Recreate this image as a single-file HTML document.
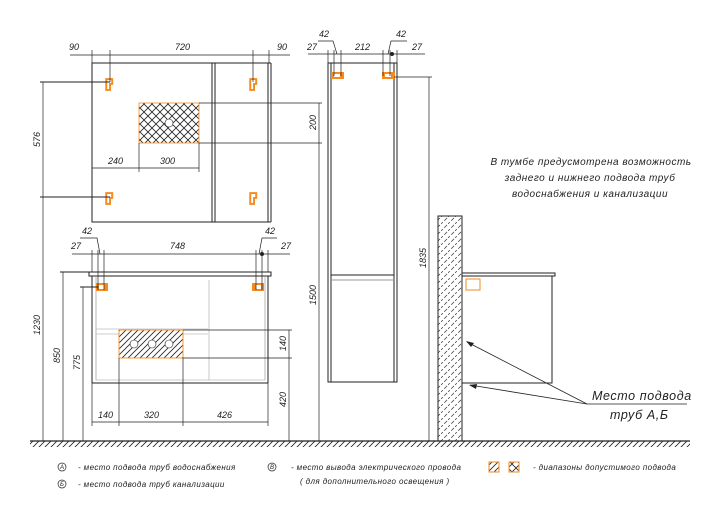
<!DOCTYPE html>
<html><head><meta charset="utf-8"><style>
html,body{margin:0;padding:0;background:#fff;}
svg{display:block;}
text{font-family:"Liberation Sans",sans-serif;font-style:italic;fill:#222;}
.d{font-size:9px;}
</style></head><body>
<svg width="720" height="521" viewBox="0 0 720 521" xmlns="http://www.w3.org/2000/svg">
<defs>
<pattern id="cross" width="8" height="8" patternUnits="userSpaceOnUse">
<path d="M0 0L8 8M8 0L0 8" stroke="#222" stroke-width="0.8"/>
</pattern>
<pattern id="diag" width="6" height="6" patternUnits="userSpaceOnUse">
<path d="M-1 7L7 -1M-1 1L1 -1M5 7L7 5" stroke="#222" stroke-width="0.8"/>
</pattern>
<pattern id="wall" width="7" height="7" patternUnits="userSpaceOnUse">
<path d="M-1 8L8 -1" stroke="#333" stroke-width="0.7" stroke-dasharray="4,2"/>
</pattern>
<symbol id="hook" viewBox="0 0 8 12">
<path d="M1 1H6.5V5.5H4.5V11H1Z" fill="#fff" stroke="#f58a1f" stroke-width="1.8"/>
</symbol>
</defs>
<g stroke="#222" fill="none" stroke-width="0.8">
<line x1="30" y1="441" x2="690" y2="441" stroke-width="1.2"/>
</g>
<rect x="30" y="441" width="660" height="6" fill="url(#diag)"/>

<!-- MIRROR -->
<g stroke="#222" fill="none" stroke-width="1">
<rect x="92" y="63" width="176" height="159"/>
<line x1="268" y1="63" x2="271" y2="63"/><line x1="271" y1="63" x2="271" y2="222"/><line x1="268" y1="222" x2="271" y2="222"/>
<line x1="212" y1="63" x2="212" y2="222"/><line x1="215" y1="63" x2="215" y2="222"/>
</g>
<rect x="139" y="103" width="60" height="40" fill="url(#cross)" stroke="#f58a1f" stroke-width="0.8"/>
<circle cx="169" cy="123" r="4" fill="#fff" stroke="#222" stroke-width="0.6"/>
<use href="#hook" x="105" y="78" width="9" height="13"/>
<use href="#hook" x="249" y="78" width="9" height="13"/>
<use href="#hook" x="105" y="192" width="9" height="13"/>
<use href="#hook" x="249" y="192" width="9" height="13"/>
<g stroke="#222" stroke-width="0.7" fill="none">
<line x1="70" y1="55" x2="290" y2="55"/>
<line x1="92" y1="50" x2="92" y2="63"/><line x1="110" y1="50" x2="110" y2="82"/>
<line x1="253" y1="50" x2="253" y2="82"/><line x1="269" y1="50" x2="269" y2="63"/>
<line x1="43" y1="82" x2="43" y2="441"/>
<line x1="40" y1="82" x2="110" y2="82" stroke-width="1"/><line x1="40" y1="197" x2="110" y2="197" stroke-width="1"/>
<line x1="92" y1="168" x2="199" y2="168"/>
<line x1="139" y1="143" x2="139" y2="172"/><line x1="199" y1="143" x2="199" y2="172"/>
<line x1="199" y1="103" x2="322" y2="103"/><line x1="199" y1="143" x2="322" y2="143"/>
<line x1="319" y1="103" x2="319" y2="441"/>
</g>
<text class="d" x="69" y="50">90</text><text class="d" x="175" y="50">720</text><text class="d" x="277" y="50">90</text>
<text class="d" x="108" y="164">240</text><text class="d" x="160" y="164">300</text>
<text class="d" transform="translate(40,147) rotate(-90)">576</text>
<text class="d" transform="translate(316,130) rotate(-90)">200</text>

<!-- VANITY -->
<g stroke="#222" fill="none" stroke-width="1">
<rect x="89" y="272" width="182" height="4"/>
<line x1="92" y1="276" x2="92" y2="383"/><line x1="268" y1="276" x2="268" y2="383"/>
<line x1="92" y1="383" x2="268" y2="383"/>
<line x1="96" y1="276" x2="96" y2="380" stroke="#999" stroke-width="0.7"/>
<line x1="265" y1="276" x2="265" y2="380" stroke="#999" stroke-width="0.7"/>
</g>
<g stroke="#bbb" stroke-width="0.8">
<line x1="209" y1="280" x2="209" y2="380"/>
<line x1="96" y1="329" x2="208" y2="329"/><line x1="96" y1="334" x2="208" y2="334"/>
<line x1="96" y1="380" x2="265" y2="380"/>
</g>
<rect x="119" y="330" width="64" height="28" fill="#fff"/>
<rect x="119" y="330" width="64" height="28" fill="url(#diag)" stroke="#f58a1f" stroke-width="0.9"/>
<g fill="#fff" stroke="#222" stroke-width="0.6">
<circle cx="134" cy="344" r="4"/><circle cx="152" cy="344" r="4"/><circle cx="169" cy="344" r="4"/>
</g>
<rect x="96" y="283" width="12" height="8" fill="#f58a1f"/><rect x="99" y="285" width="5" height="4" fill="#fff"/>
<rect x="252" y="283" width="12" height="8" fill="#f58a1f"/><rect x="256" y="285" width="5" height="4" fill="#fff"/>
<g stroke="#222" stroke-width="0.7" fill="none">
<line x1="72" y1="254" x2="290" y2="254"/>
<line x1="92" y1="250" x2="92" y2="272"/><line x1="98" y1="250" x2="98" y2="290"/><line x1="104" y1="250" x2="104" y2="290"/>
<line x1="256" y1="250" x2="256" y2="290"/><line x1="262" y1="250" x2="262" y2="290"/><line x1="268" y1="250" x2="268" y2="272"/>
<polyline points="80,238 97,238 100,254"/><polyline points="277,238 262,238 259,254"/>
<line x1="63" y1="272" x2="63" y2="441"/><line x1="60" y1="272" x2="92" y2="272" stroke-width="1"/>
<line x1="83" y1="287" x2="83" y2="441"/><line x1="80" y1="287" x2="98" y2="287" stroke-width="1"/>
<line x1="92" y1="422" x2="268" y2="422"/>
<line x1="92" y1="383" x2="92" y2="426"/><line x1="119" y1="358" x2="119" y2="426"/>
<line x1="183" y1="358" x2="183" y2="426"/><line x1="268" y1="383" x2="268" y2="426"/>
<line x1="183" y1="330" x2="292" y2="330"/><line x1="183" y1="358" x2="292" y2="358"/>
<line x1="289" y1="330" x2="289" y2="441"/>
</g>
<circle cx="262" cy="254" r="2" fill="#222"/>
<text class="d" x="71" y="249">27</text><text class="d" x="170" y="249">748</text><text class="d" x="281" y="249">27</text>
<text class="d" x="82" y="234">42</text><text class="d" x="265" y="234">42</text>
<text class="d" x="98" y="418">140</text><text class="d" x="144" y="418">320</text><text class="d" x="217" y="418">426</text>
<text class="d" transform="translate(40,335) rotate(-90)">1230</text>
<text class="d" transform="translate(60,363) rotate(-90)">850</text>
<text class="d" transform="translate(80,370) rotate(-90)">775</text>
<text class="d" transform="translate(286,351) rotate(-90)">140</text>
<text class="d" transform="translate(286,407) rotate(-90)">420</text>

<!-- COLUMN -->
<g stroke="#222" fill="none" stroke-width="1">
<rect x="328" y="63" width="69" height="319"/>
<line x1="331" y1="63" x2="331" y2="382"/><line x1="394" y1="63" x2="394" y2="382"/>
<line x1="331" y1="275" x2="394" y2="275"/><line x1="331" y1="280" x2="394" y2="280" stroke="#999"/>
</g>
<rect x="331" y="72" width="13" height="7" fill="#f58a1f"/><rect x="334" y="74" width="6" height="3" fill="#fff"/>
<rect x="382" y="72" width="13" height="7" fill="#f58a1f"/><rect x="385" y="74" width="6" height="3" fill="#fff"/>
<g stroke="#222" stroke-width="0.7" fill="none">
<line x1="308" y1="54" x2="425" y2="54"/>
<line x1="328" y1="50" x2="328" y2="63"/><line x1="334" y1="50" x2="334" y2="76"/><line x1="341" y1="50" x2="341" y2="76"/>
<line x1="383" y1="50" x2="383" y2="76"/><line x1="390" y1="50" x2="390" y2="76"/><line x1="397" y1="50" x2="397" y2="63"/>
<polyline points="318,41 333,41 337,54"/><polyline points="407,41 391,41 388,54"/>
<line x1="394" y1="77" x2="432" y2="77"/><line x1="429" y1="77" x2="429" y2="441"/>
</g>
<circle cx="392" cy="54" r="2" fill="#222"/>
<text class="d" x="307" y="50">27</text><text class="d" x="355" y="50">212</text><text class="d" x="412" y="50">27</text>
<text class="d" x="319" y="37">42</text><text class="d" x="396" y="37">42</text>
<text class="d" transform="translate(316,305) rotate(-90)">1500</text>
<text class="d" transform="translate(426,268) rotate(-90)">1835</text>

<!-- WALL + SIDE -->
<rect x="438" y="216" width="24" height="225" fill="url(#wall)" stroke="#222" stroke-width="1"/>
<g stroke="#222" fill="none" stroke-width="1">
<rect x="462" y="273" width="93" height="3"/>
<polyline points="462,276 552,276 552,383 462,383"/>
</g>
<rect x="466" y="279" width="14" height="11" fill="none" stroke="#f58a1f" stroke-width="1"/>
<g stroke="#222" stroke-width="0.8" fill="none">
<line x1="587" y1="404" x2="687" y2="404"/>
<line x1="587" y1="404" x2="467" y2="342"/>
<line x1="587" y1="404" x2="470" y2="385"/>
</g>
<path d="M466 341L474 343L471 347Z" fill="#222"/>
<path d="M469 385L477 384L476 389Z" fill="#222"/>
<text x="592" y="400" font-size="12.5" letter-spacing="0.6">Место  подвода</text>
<text x="610" y="419" font-size="12.5" letter-spacing="0.6">труб  А,Б</text>
<g font-size="10" text-anchor="middle" letter-spacing="0.5">
<text x="591" y="165">В тумбе предусмотрена возможность</text>
<text x="590" y="181">заднего и нижнего подвода труб</text>
<text x="590" y="197">водоснабжения и канализации</text>
</g>

<!-- LEGEND -->
<g fill="#fff" stroke="#222" stroke-width="0.7">
<circle cx="62" cy="467" r="4"/><circle cx="62" cy="484" r="4"/><circle cx="272" cy="467" r="4"/>
</g>
<g font-size="6" text-anchor="middle">
<text x="62" y="469">А</text><text x="62" y="486">Б</text><text x="272" y="469">В</text>
</g>
<g font-size="8" letter-spacing="0.4">
<text x="78" y="470">- место подвода труб водоснабжения</text>
<text x="78" y="487">- место подвода труб канализации</text>
<text x="291" y="470">- место вывода электрического провода</text>
<text x="300" y="484">( для дополнительного освещения )</text>
<text x="533" y="470">- диапазоны допустимого подвода</text>
</g>
<rect x="489" y="462" width="10" height="10" fill="url(#diag)" stroke="#f58a1f" stroke-width="1"/>
<rect x="509" y="462" width="10" height="10" fill="url(#cross)" stroke="#f58a1f" stroke-width="1"/>
</svg>
</body></html>
